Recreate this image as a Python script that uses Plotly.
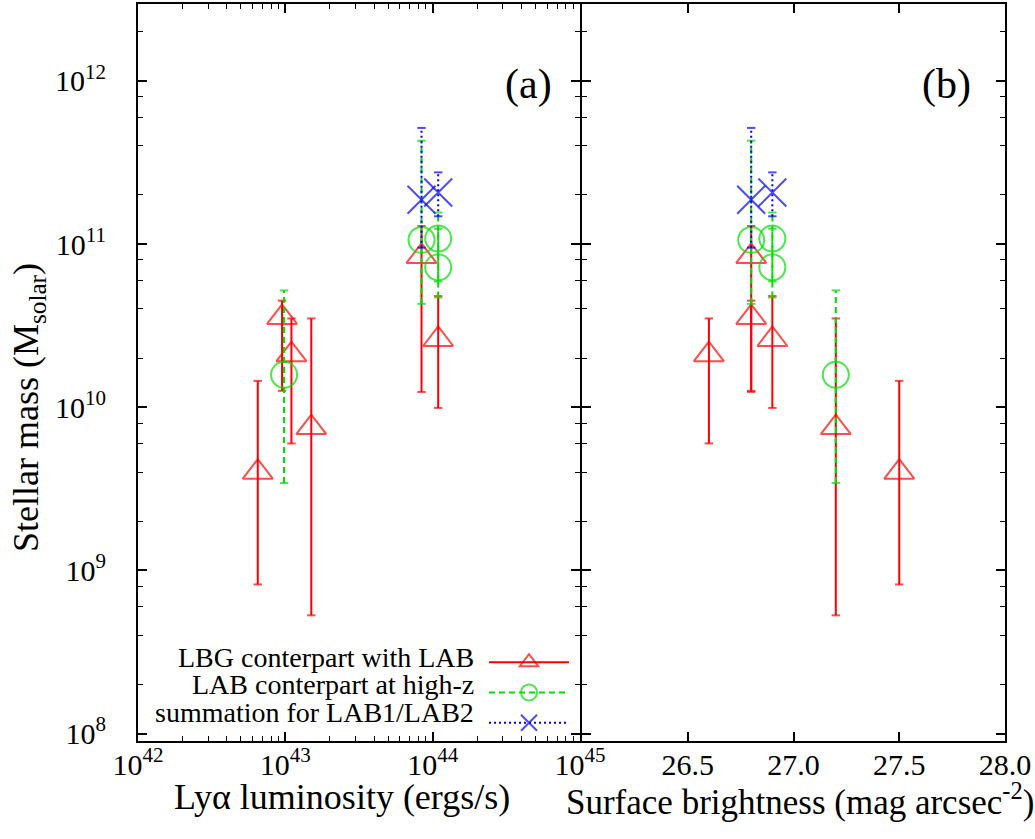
import math
import plotly.graph_objects as go

# ---------------- data ----------------
# LBG counterparts with LAB
lbg_lum = [6.5e42, 9.5e42, 1.1e43, 1.5e43, 8.4e43, 1.09e44]
lbg_sb = [27.5, 26.8, 26.6, 27.2, 26.8, 26.9]
lbg_mass = [4.0e9, 3.55e10, 2.1e10, 7.5e9, 8.4e10, 2.6e10]
lbg_mass_hi = [1.45e10, 4.5e10, 3.5e10, 3.5e10, 1.29e11, 4.8e10]
lbg_mass_lo = [8.2e8, 1.26e10, 6.0e9, 5.3e8, 1.24e10, 9.9e9]

# LAB counterparts at high-z
lab_lum = [9.8e42, 8.4e43, 1.09e44, 1.09e44]
lab_sb = [27.2, 26.8, 26.9, 26.9]
lab_mass = [1.58e10, 1.06e11, 1.08e11, 7.2e10]
lab_mass_hi = [5.2e10, 4.3e11, 1.56e11, 1.24e11]
lab_mass_lo = [3.43e9, 4.3e10, 5.9e10, 4.7e10]

# summation for LAB1/LAB2
sum_lum = [8.4e43, 1.09e44]
sum_sb = [26.8, 26.9]
sum_mass = [1.87e11, 2.07e11]
sum_mass_hi = [5.15e11, 2.75e11]
sum_mass_lo = [9.5e10, 1.48e11]

names = ["LBG conterpart with LAB", "LAB conterpart at high-z", "summation for LAB1/LAB2"]

lum_ticks = [1e42, 1e43, 1e44, 1e45]
lum_ticktext = ["10<sup>42</sup>", "10<sup>43</sup>", "10<sup>44</sup>", "10<sup>45</sup>"]
mass_ticks = [1e8, 1e9, 1e10, 1e11, 1e12]
mass_ticktext = ["10<sup>8</sup>", "10<sup>9</sup>", "10<sup>10</sup>", "10<sup>11</sup>", "10<sup>12</sup>"]
sb_ticks = [26.5, 27.0, 27.5, 28.0]
sb_ticktext = ["26.5", "27.0", "27.5", "28.0"]

# ---------------- styling ----------------
W, H = 1035, 839
FONT = "Liberation Serif"
RED, GREEN, BLUE = "#ff0000", "#00dd00", "#0000ff"
styles = [
    dict(symbol="triangle-up-open", size=26, color=RED, dash="solid"),
    dict(symbol="circle-open", size=26, color=GREEN, dash="6px,4px"),
    dict(symbol="x-thin-open", size=28, color=BLUE, dash="2px,3px"),
]
CAP = 6


def series(xs, ys, lo, hi, st, name, xa, ya, showlegend):
    X, Y, S, Z = [], [], [], []
    for x, y, l, h in zip(xs, ys, lo, hi):
        X += [x, None, x, x, None]
        Y += [y, None, l, h, None]
        S += [st["symbol"], st["symbol"], "line-ew-open", "line-ew-open", st["symbol"]]
        Z += [st["size"], st["size"], CAP, CAP, st["size"]]
    return go.Scatter(
        x=X, y=Y, mode="lines+markers", name=" ", legendgroup=name,
        xaxis=xa, yaxis=ya, showlegend=showlegend, connectgaps=False,
        line=dict(color=st["color"], width=2, dash=st["dash"]),
        marker=dict(symbol=S, size=Z, color=st["color"],
                    line=dict(color=st["color"], width=2)),
        hoverinfo="skip",
    )


fig = go.Figure()
sets = [
    (lbg_lum, lbg_sb, lbg_mass, lbg_mass_lo, lbg_mass_hi),
    (lab_lum, lab_sb, lab_mass, lab_mass_lo, lab_mass_hi),
    (sum_lum, sum_sb, sum_mass, sum_mass_lo, sum_mass_hi),
]
for (lum, sb, m, lo, hi), st, nm in zip(sets, styles, names):
    fig.add_trace(series(lum, m, lo, hi, st, nm, "x", "y", True))
    fig.add_trace(series(sb, m, lo, hi, st, nm, "x2", "y2", False))

# geometry (pixels)
L, D, R = 138, 580, 1005
T, B = 4, 741
xa_dom = [L / W, D / W]
xb_dom = [(D + 2) / W, R / W]
y_dom = [1 - B / H, 1 - T / H]

lum_minor = [float(k) * 10.0 ** n for n in range(42, 45) for k in range(2, 10)]
mass_minor = [float(k) * 10.0 ** n for n in range(7, 13) for k in (2, 4, 6, 8)]

axis_common = dict(showline=True, linecolor="black", linewidth=2, mirror="ticks",
                   ticks="inside", ticklen=9, tickwidth=1.5, tickcolor="black",
                   showgrid=False, zeroline=False, automargin=False,
                   tickfont=dict(family=FONT, size=30, color="black"))

fig.update_layout(
    template="none",
    width=W, height=H, margin=dict(l=0, r=0, t=0, b=0, pad=0, autoexpand=False),
    paper_bgcolor="white", plot_bgcolor="white",
    font=dict(family=FONT, color="black"),
    xaxis=dict(type="log", range=[42, 45], domain=xa_dom, anchor="y",
               tickmode="array", tickvals=lum_ticks, ticktext=lum_ticktext,
               ticklabelstandoff=-4,
               minor=dict(tickmode="array", tickvals=lum_minor, ticks="inside",
                          ticklen=5, tickcolor="black", tickwidth=1),
               **axis_common),
    yaxis=dict(type="log", range=[math.log10(9e7), math.log10(2.96e12)], domain=y_dom,
               anchor="x", tickmode="array", tickvals=mass_ticks, ticktext=mass_ticktext,
               ticklabelstandoff=24,
               minor=dict(tickmode="array", tickvals=mass_minor, ticks="inside",
                          ticklen=5, tickcolor="black", tickwidth=1),
               **axis_common),
    xaxis2=dict(range=[26.0, 28.0], domain=xb_dom, anchor="y2",
                tickmode="array", tickvals=sb_ticks, ticktext=sb_ticktext,
                ticklabelstandoff=-4, **axis_common),
    yaxis2=dict(type="log", matches="y", domain=y_dom, anchor="x2",
                tickmode="array", tickvals=mass_ticks, showticklabels=False,
                minor=dict(tickmode="array", tickvals=mass_minor, ticks="inside",
                           ticklen=5, tickcolor="black", tickwidth=1),
                **axis_common),
    showlegend=True,
    legend=dict(x=484 / W, y=1 - 642 / H, xanchor="left", yanchor="top",
                bgcolor="rgba(0,0,0,0)", itemwidth=80, tracegroupgap=0,
                font=dict(family=FONT, size=21, color="black"), traceorder="normal"),
)

ann = []


def label(text, x, y, size, angle=0, xanchor="center"):
    ann.append(dict(text=text, x=x / W, y=1 - y / H, xref="paper", yref="paper",
                    xanchor=xanchor, yanchor="middle", showarrow=False, textangle=angle,
                    font=dict(family=FONT, size=size, color="black")))


label("(a)", 528, 84, 42)
label("(b)", 946, 84, 42)
label("Stellar mass (M<sub>solar</sub>)", 28, 408, 36, angle=-90)
label("Ly\u03b1 luminosity (ergs/s)", 342, 797, 36)
label("Surface brightness (mag arcsec<sup>-2</sup>)", 800, 799, 35)
for i, nm in enumerate(names):
    label(nm, 476, 657 + 27.5 * i, 28, xanchor="right")
fig.update_layout(annotations=ann)

fig.write_html("out.html")
